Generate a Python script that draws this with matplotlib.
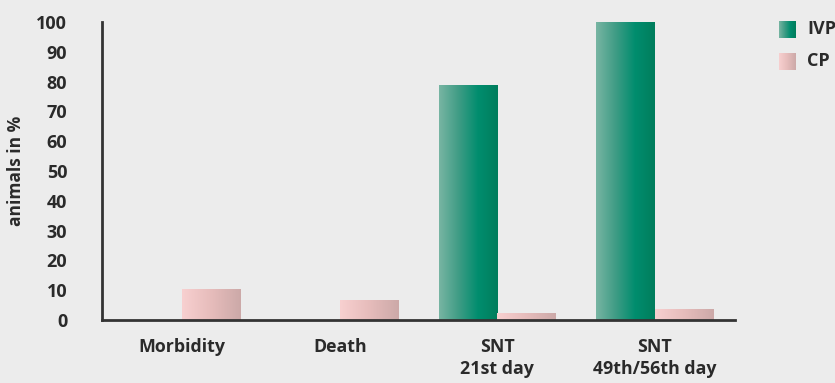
import numpy as np
import matplotlib
matplotlib.use("Agg")
import matplotlib.pyplot as plt
from matplotlib.colors import LinearSegmentedColormap

categories = ["Morbidity", "Death", "SNT\n21st day", "SNT\n49th/56th day"]
ivp_values = [0, 0, 79, 100]
cp_values = [10.5, 6.7, 2.3, 3.8]
series_names = ["IVP", "CP"]
y_ticks = [0, 10, 20, 30, 40, 50, 60, 70, 80, 90, 100]

BG = "#ececec"
TEXT = "#2a2a2a"
plt.rcParams["font.family"] = ["Open Sans", "DejaVu Sans"]

ivp_cmap = LinearSegmentedColormap.from_list(
    "ivp", ["#78b5a3", "#3f9c85", "#008d6e", "#007d5c"])
cp_cmap = LinearSegmentedColormap.from_list(
    "cp", ["#f8d0d0", "#e6bcbb", "#cca9a8"])
grad = np.linspace(0, 1, 256).reshape(1, -1)

fig = plt.figure(figsize=(8.35, 3.83), dpi=100, facecolor=BG)
ax = fig.add_axes([102 / 835, 1 - 320 / 383, (735 - 102) / 835, (320 - 22) / 383])
ax.set_facecolor(BG)

x = np.arange(len(categories))
width = 0.37


def gradient_bars(xpos, values, cmap):
    bars = ax.bar(xpos, values, width, color="none", edgecolor="none", zorder=2)
    for b in bars:
        h = b.get_height()
        if h <= 0:
            continue
        x0 = b.get_x()
        im = ax.imshow(grad, cmap=cmap, aspect="auto",
                       extent=[x0, x0 + b.get_width(), 0, h],
                       interpolation="bicubic", zorder=2)
        im.set_clip_path(b)
    return bars


gradient_bars(x - width / 2, ivp_values, ivp_cmap)
gradient_bars(x + width / 2, cp_values, cp_cmap)

ax.set_xlim(-0.51, 3.51)
ax.set_ylim(0, 100)
ax.set_yticks(y_ticks)
ax.set_yticklabels([str(t) for t in y_ticks], fontsize=13, fontweight="bold", color=TEXT)
ax.set_xticks(x)
ax.set_xticklabels(categories, fontsize=12.8, fontweight="bold", color=TEXT, linespacing=1.3)
ax.tick_params(axis="both", length=0)
ax.tick_params(axis="y", pad=25)
ax.tick_params(axis="x", pad=13)
for s in ["top", "right"]:
    ax.spines[s].set_visible(False)
for s in ["left", "bottom"]:
    ax.spines[s].set_color("#333333")
    ax.spines[s].set_linewidth(2)
ax.set_ylabel("animals in %", fontsize=12.5, fontweight="bold", color=TEXT)
ax.yaxis.set_label_coords(-0.121, 0.5)

# legend with gradient swatches
for i, (name, cmap) in enumerate(zip(series_names, [ivp_cmap, cp_cmap])):
    top = 21 + i * 32
    lax = fig.add_axes([779 / 835, 1 - (top + 17) / 383, 17 / 835, 17 / 383])
    lax.imshow(grad, cmap=cmap, aspect="auto", interpolation="bicubic")
    lax.set_axis_off()
    fig.text(807 / 835, 1 - (top + 8.5) / 383, name, fontsize=13,
             fontweight="bold", color=TEXT, va="center", ha="left")

fig.savefig("out.png", dpi=100, facecolor=BG)
